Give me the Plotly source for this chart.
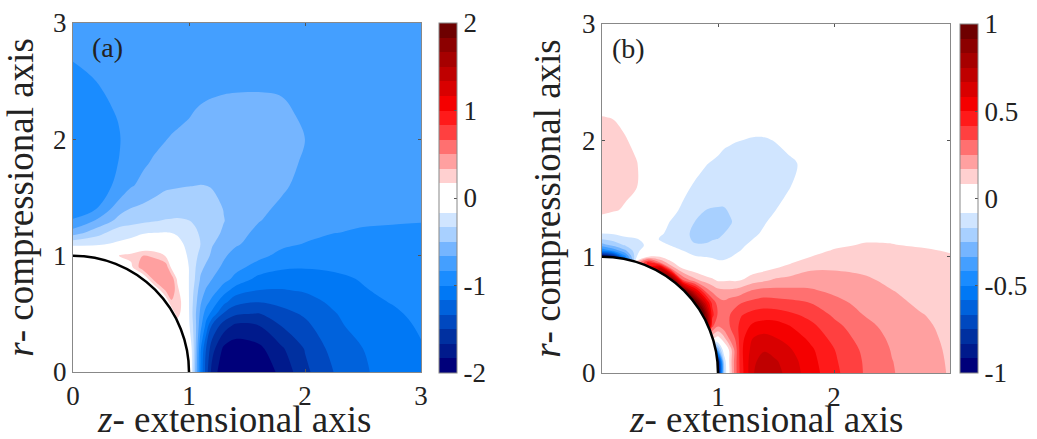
import plotly.graph_objects as go

W, H = 1037, 439

band_colors = ["#00007a", "#001a8c", "#0030a0", "#0048bf", "#0062dc", "#0078f5",
               "#1a8cff", "#449fff", "#75b5ff", "#a8d0ff", "#d0e5ff", "#ffffff",
               "#ffffff", "#ffd0d0", "#ffa0a0", "#ff7070", "#ff4040", "#ff1a1a",
               "#f50000", "#d90000", "#bf0000", "#a60000", "#8c0000", "#6e0000"]

a_z = [0, .2, .4, .5, .6, .7, .8, .85, .9, 1, 1.05, 1.1, 1.15, 1.2, 1.3, 1.4, 1.6, 1.8, 2, 2.25, 2.5, 2.75, 3]
a_r = [0, .2, .4, .5, .6, .7, .8, .9, 1, 1.1, 1.2, 1.3, 1.4, 1.6, 1.8, 2, 2.2, 2.5, 3]
a_vals = [
 [0,0,0,0,0,0,0,0,0,.12,-.47,-1.02,-1.43,-1.74,-1.95,-1.98,-1.95,-1.79,-1.54,-1.33,-1.19,-1.09,-1.03],
 [0,0,0,0,0,0,0,0,0,.05,-.42,-.98,-1.36,-1.6,-1.87,-1.93,-1.88,-1.69,-1.49,-1.27,-1.167,-1.07,-1.01],
 [0,0,0,0,0,0,0,0,0,-.14,-.42,-.78,-1.06,-1.36,-1.58,-1.7,-1.667,-1.49,-1.37,-1.21,-1.09,-1.04,-.985],
 [0,0,0,0,0,0,0,0,.26,-.16,-.45,-.71,-.93,-1.05,-1.36,-1.47,-1.51,-1.39,-1.31,-1.18,-1.06,-1.02,-.97],
 [0,0,0,0,0,0,0,.3,.32,-.165,-.42,-.65,-.78,-.9,-1.12,-1.28,-1.333,-1.29,-1.24,-1.13,-1.03,-.995,-.96],
 [0,0,0,0,0,-.05,.35,.47,.22,-.17,-.38,-.59,-.69,-.75,-.93,-1.08,-1.175,-1.18,-1.15,-1.08,-1.01,-.97,-.95],
 [0,0,0,0,-.05,.4,.48,.44,.13,-.17,-.33,-.52,-.6,-.667,-.77,-.88,-1.05,-1.08,-1.07,-1.03,-.99,-.95,-.94],
 [0,0,0,.12,.44,.47,.44,.12,.03,-.17,-.31,-.46,-.53,-.62,-.69,-.78,-.9,-.98,-.99,-.98,-.955,-.93,-.93],
 [.02,.02,.17,.22,.33,.3,.15,.07,-.01,-.2,-.28,-.39,-.46,-.53,-.65,-.71,-.79,-.88,-.91,-.93,-.92,-.9,-.91],
 [-.2,-.19,-.14,-.11,-.08,-.07,-.08,-.09,-.11,-.22,-.27,-.335,-.42,-.49,-.56,-.65,-.72,-.8,-.84,-.87,-.88,-.875,-.88],
 [-.6,-.41,-.24,-.22,-.18,-.17,-.165,-.17,-.19,-.27,-.3,-.36,-.41,-.45,-.52,-.61,-.7,-.755,-.79,-.83,-.845,-.85,-.85],
 [-.82,-.65,-.44,-.4,-.37,-.345,-.32,-.315,-.31,-.33,-.36,-.39,-.41,-.44,-.495,-.56,-.66,-.72,-.76,-.8,-.82,-.825,-.83],
 [-.9,-.833,-.56,-.49,-.46,-.44,-.42,-.415,-.41,-.41,-.42,-.43,-.44,-.44,-.505,-.54,-.63,-.7,-.74,-.78,-.8,-.81,-.815],
 [-.94,-.88,-.81,-.68,-.63,-.56,-.52,-.515,-.51,-.503,-.5,-.497,-.5,-.51,-.52,-.53,-.56,-.64,-.72,-.75,-.78,-.8,-.81],
 [-.95,-.89,-.83,-.74,-.69,-.65,-.62,-.61,-.6,-.58,-.57,-.56,-.555,-.55,-.54,-.535,-.54,-.58,-.7,-.75,-.77,-.79,-.8],
 [-.94,-.89,-.84,-.77,-.73,-.7,-.67,-.655,-.64,-.62,-.61,-.6,-.59,-.58,-.56,-.55,-.54,-.57,-.667,-.73,-.75,-.77,-.78],
 [-.92,-.88,-.825,-.77,-.74,-.72,-.71,-.705,-.7,-.672,-.655,-.64,-.625,-.61,-.58,-.56,-.55,-.6,-.71,-.74,-.75,-.76,-.77],
 [-.87,-.833,-.79,-.78,-.77,-.76,-.75,-.745,-.74,-.73,-.725,-.72,-.72,-.72,-.72,-.72,-.72,-.72,-.73,-.74,-.75,-.76,-.76],
 [-.76,-.75,-.74,-.74,-.74,-.74,-.74,-.74,-.74,-.74,-.74,-.74,-.74,-.74,-.74,-.74,-.74,-.74,-.74,-.74,-.74,-.74,-.74],
]

b_z = [0, .1, .2, .3, .4, .5, .6, .7, .8, .9, .95, 1, 1.05, 1.1, 1.15, 1.2, 1.3, 1.4, 1.5, 1.6, 1.8, 2, 2.25, 2.5, 2.75, 3]
b_r = [0, .1, .2, .3, .4, .5, .6, .7, .8, .9, .95, 1, 1.05, 1.1, 1.15, 1.2, 1.3, 1.4, 1.6, 1.8, 2, 2.2, 2.4, 3]
b_columns = [
 [0,0,0,0,0,0,0,0,0,0,-1.3,-1,-.5,-.29,-.167,-.083,.04,.11,.115,.12,.11,.085,.03,0],
 [0,0,0,0,0,0,0,0,0,0,-1.2,-.85,-.4,-.22,-.14,-.075,.03,.09,.11,.11,.11,.08,.03,0],
 [0,0,0,0,0,0,0,0,0,0,-.8,-.45,-.27,-.155,-.1,-.06,0,.075,.1,.095,.09,.06,.02,0],
 [0,0,0,0,0,0,0,0,0,0,.15,-.083,-.11,-.12,-.09,-.04,0,.03,.085,.087,.06,.03,.01,0],
 [0,0,0,0,0,0,0,0,0,.5,.45,.083,0,-.06,-.03,-.02,0,0,.02,.03,.01,0,0,0],
 [0,0,0,0,0,0,0,0,.9,.7,.25,.08,0,-.06,-.09,-.075,-.05,-.03,0,0,0,0,0,0],
 [0,0,0,0,0,0,0,1.2,1,.22,.095,.03,-.05,-.09,-.1,-.1,-.09,-.06,-.03,0,0,0,0,0],
 [0,0,0,0,0,0,1.2,1.05,.32,.07,.02,-.04,-.083,-.12,-.14,-.15,-.13,-.1,-.06,-.03,0,0,0,0],
 [0,0,0,0,0,1.3,1.1,.62,.19,.03,0,-.08,-.1,-.16,-.18,-.18,-.167,-.125,-.095,-.05,-.01,0,0,0],
 [0,0,0,0,1,.85,.6,.31,.12,0,-.05,-.085,-.11,-.16,-.18,-.19,-.2,-.168,-.12,-.08,-.03,0,0,0],
 [-1.3,-1.3,-.6,.1,.35,.45,.4,.24,.1,-.01,-.06,-.09,-.125,-.15,-.17,-.19,-.2,-.172,-.12,-.09,-.04,0,0,0],
 [-1,-.9,-.3,.05,.25,.32,.3,.2,.07,-.02,-.07,-.1,-.13,-.155,-.165,-.19,-.2,-.175,-.115,-.095,-.06,-.01,0,0],
 [-.2,-.17,-.03,.14,.3,.28,.27,.19,.07,-.02,-.07,-.1,-.13,-.15,-.16,-.167,-.19,-.175,-.115,-.105,-.07,-.02,0,0],
 [.083,.1,.1,.27,.33,.33,.3,.19,.075,-.01,-.05,-.09,-.12,-.14,-.15,-.155,-.175,-.16,-.115,-.11,-.075,-.025,0,0],
 [.3,.3,.29,.34,.38,.37,.31,.2,.07,0,-.03,-.07,-.1,-.12,-.13,-.145,-.155,-.15,-.115,-.115,-.08,-.03,-.005,0],
 [.46,.47,.48,.47,.45,.41,.333,.22,.08,.01,-.02,-.05,-.08,-.1,-.11,-.12,-.13,-.14,-.12,-.115,-.083,-.035,-.01,0],
 [.66,.65,.62,.583,.52,.45,.36,.27,.125,.04,.01,-.02,-.04,-.06,-.083,-.1,-.12,-.13,-.125,-.115,-.09,-.04,-.015,0],
 [.72,.7,.66,.61,.54,.465,.375,.29,.15,.06,.03,.01,-.01,-.03,-.05,-.07,-.09,-.105,-.115,-.115,-.09,-.04,-.015,0],
 [.7,.675,.63,.585,.54,.46,.37,.285,.18,.083,.05,.03,.01,0,-.015,-.03,-.06,-.083,-.11,-.11,-.08,-.04,-.01,0],
 [.64,.63,.6,.56,.51,.44,.36,.28,.19,.105,.07,.05,.03,.02,.01,0,-.03,-.06,-.09,-.1,-.06,-.03,-.01,0],
 [.54,.53,.515,.48,.44,.39,.333,.265,.21,.155,.12,.083,.06,.045,.03,.02,0,-.02,-.04,-.06,-.04,-.02,-.01,0],
 [.44,.43,.42,.39,.36,.32,.28,.235,.195,.16,.13,.115,.09,.07,.055,.04,.02,0,-.01,-.02,-.02,-.01,0,0],
 [.333,.33,.32,.3,.28,.25,.225,.2,.18,.15,.13,.118,.1,.088,.075,.06,.04,.02,0,0,0,0,0,0],
 [.255,.252,.245,.235,.22,.205,.185,.17,.15,.13,.12,.105,.095,.085,.078,.065,.04,.02,0,0,0,0,0,0],
 [.21,.205,.2,.19,.18,.17,.155,.14,.125,.11,.105,.1,.09,.078,.07,.06,.04,.02,0,0,0,0,0,0],
 [.16,.158,.155,.152,.15,.145,.14,.135,.125,.11,.1,.088,.08,.07,.06,.05,.03,.01,0,0,0,0,0,0],
]
b_vals = [list(row) for row in zip(*b_columns)]

ax_ticks = [0, 1, 2, 3]
bx_ticks = [1, 2]
a_cbar_vals = [-2, -1, 0, 1, 2]
a_cbar_text = ["-2", "-1", "0", "1", "2"]
b_cbar_vals = [-1, -.5, 0, .5, 1]
b_cbar_text = ["-1", "-0.5", "0", "0.5", "1"]

FONT = "Liberation Serif"
n = len(band_colors)
scale = []
for i, c in enumerate(band_colors):
    scale.append([i / n, c])
    scale.append([(i + 1) / n, c])


def cbar(left_px, top_px, bot_px, vals, text):
    return dict(x=left_px / W, xanchor="left", thickness=18, thicknessmode="pixels",
                y=1 - bot_px / H, yanchor="bottom", len=(bot_px - top_px) / H, lenmode="fraction",
                tickmode="array", tickvals=vals, ticktext=text, ticks="inside", ticklen=3,
                tickcolor="#555", tickfont=dict(family=FONT, size=27, color="#222"),
                outlinecolor="#888", outlinewidth=1, xpad=0, ypad=0, ticklabelposition="outside")


fig = go.Figure()
fig.add_trace(go.Contour(x=a_z, y=a_r, z=a_vals, colorscale=scale, zmin=-2, zmax=2,
                         contours=dict(coloring="fill", start=-2, end=2, size=4 / n, showlines=False),
                         line=dict(width=0, smoothing=1), xaxis="x", yaxis="y",
                         colorbar=cbar(439.3, 23, 373, a_cbar_vals, a_cbar_text)))
fig.add_trace(go.Contour(x=b_z, y=b_r, z=b_vals, colorscale=scale, zmin=-1, zmax=1,
                         contours=dict(coloring="fill", start=-1, end=1, size=2 / n, showlines=False),
                         line=dict(width=0, smoothing=1), xaxis="x2", yaxis="y2",
                         colorbar=cbar(960, 24, 373, b_cbar_vals, b_cbar_text)))

tick_font = dict(family=FONT, size=27, color="#222")
title_font = dict(family=FONT, size=37, color="#222")


def axis(domain, rng, ticks, anchor, title=None, standoff=0):
    d = dict(domain=domain, range=rng, tickmode="array", tickvals=ticks, ticktext=[str(t) for t in ticks],
             ticks="inside", ticklen=3, tickcolor="#555", tickfont=tick_font,
             showline=True, linecolor="#888", linewidth=1, mirror="ticks", showgrid=False, zeroline=False,
             anchor=anchor, automargin=False)
    if title:
        d["title"] = dict(text=title, font=title_font, standoff=standoff)
    return d


X_T = "<i>z</i>- extensional axis"
Y_T = "<i>r</i>- compressional axis"
fig.update_layout(
    width=W, height=H, autosize=False, margin=dict(l=0, r=0, t=0, b=0),
    paper_bgcolor="white", plot_bgcolor="white", showlegend=False,
    xaxis=axis([73 / W, 421 / W], [0, 3], ax_ticks, "y"),
    yaxis=axis([1 - 372 / H, 1 - 23 / H], [0, 3], ax_ticks, "x", Y_T, 10),
    xaxis2=axis([602 / W, 950 / W], [0, 3], bx_ticks, "y2"),
    yaxis2=axis([1 - 373 / H, 1 - 24 / H], [0, 3], ax_ticks, "x2", Y_T, 10),
    shapes=[
        dict(type="circle", xref="x", yref="y", x0=-1, x1=1, y0=-1, y1=1, fillcolor="white",
             line=dict(color="black", width=2.5), layer="above"),
        dict(type="circle", xref="x2", yref="y2", x0=-1, x1=1, y0=-1, y1=1, fillcolor="white",
             line=dict(color="black", width=2.5), layer="above"),
    ],
    annotations=[
        dict(text="(a)", xref="x", yref="y", x=.165, y=2.79, showarrow=False, xanchor="left", yanchor="middle",
             xshift=-2, font=dict(family=FONT, size=28, color="#222")),
        dict(text="(b)", xref="x2", yref="y2", x=.09, y=2.79, showarrow=False, xanchor="left", yanchor="middle",
             xshift=-2, font=dict(family=FONT, size=28, color="#222")),
        dict(text=X_T, xref="paper", yref="paper", x=234 / W, y=0, showarrow=False, xanchor="center",
             yanchor="bottom", yshift=-3, font=title_font),
        dict(text=X_T, xref="paper", yref="paper", x=766 / W, y=0, showarrow=False, xanchor="center",
             yanchor="bottom", yshift=-3, font=title_font),
    ],
)
fig.write_html("out.html", config=dict(displayModeBar=False),
               post_script="document.body.style.margin='0';document.body.style.overflow='hidden';")
